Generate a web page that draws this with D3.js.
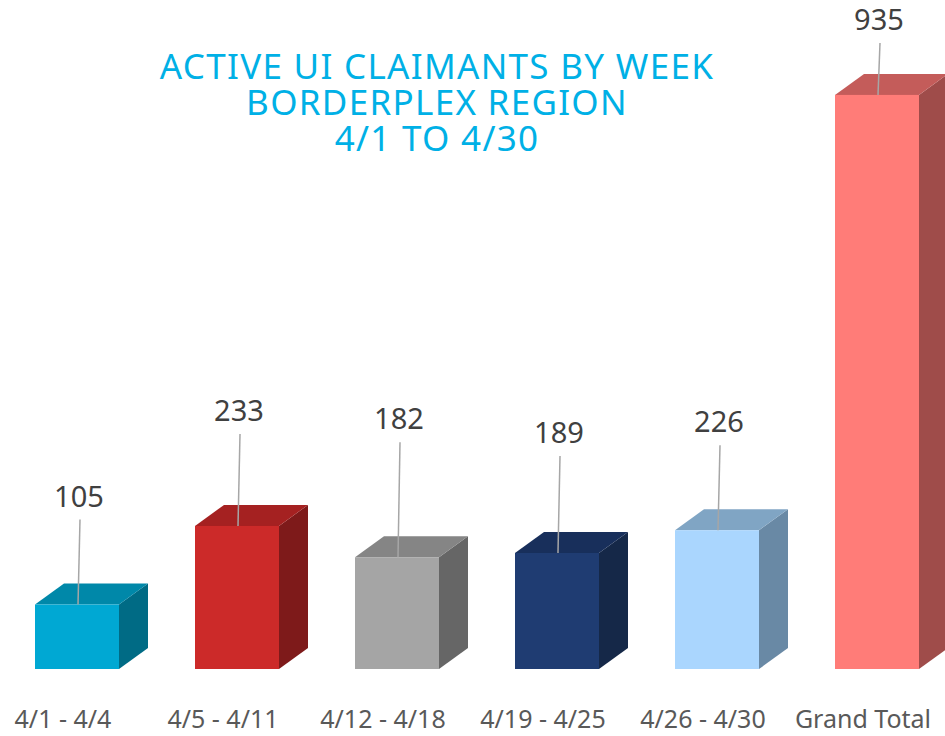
<!DOCTYPE html>
<html>
<head>
<meta charset="utf-8">
<script src="https://cdn.jsdelivr.net/npm/d3@7"></script>
<style>
  html, body { margin: 0; padding: 0; background: #ffffff; }
  svg { display: block; font-family: "Noto Sans", "Open Sans", sans-serif; }
</style>
</head>
<body>
<div id="chart"></div>
<script>
// Data
const categories = ['4/1 - 4/4', '4/5 - 4/11', '4/12 - 4/18', '4/19 - 4/25', '4/26 - 4/30', 'Grand Total'];
const claimants = [105, 233, 182, 189, 226, 935];
const titleLines = ['ACTIVE UI CLAIMANTS BY WEEK', 'BORDERPLEX REGION', '4/1 TO 4/30'];

// Face colours per bar: front, top, side
const frontColors = ['#00A8D3', '#CC2A29', '#A5A5A5', '#1F3C72', '#AAD6FE', '#FF7C78'];
const topColors = ['#0088A9', '#A52121', '#858585', '#182F5B', '#80A5C4', '#C45C5A'];
const sideColors = ['#006B85', '#7E1A1A', '#666666', '#152848', '#6989A5', '#9F4C4A'];

// distance (px) from label baseline down to the bar top, tuned to the picture
const labelGap = [98, 105, 128, 110, 98, 65];

const width = 945, height = 736;
const baseY = 669;
const frontW = 84, depthX = 29, depthY = 21;

const svg = d3.select('#chart').append('svg')
  .attr('width', width)
  .attr('height', height);

const x = d3.scaleBand().domain(categories).range([-17, 943]).padding(0);
const y = d3.scaleLinear().domain([0, 1000]).range([baseY, baseY - 614]);

// Title
const title = svg.append('text')
  .attr('text-anchor', 'middle')
  .attr('fill', '#00B0E6')
  .attr('font-size', '35px')
  .attr('letter-spacing', '1.3px');
titleLines.forEach((t, i) => {
  title.append('tspan')
    .attr('x', 437)
    .attr('y', 79 + i * 36)
    .text(t);
});

const bars = svg.append('g').selectAll('g')
  .data(categories.map((c, i) => ({ c, v: claimants[i], i })))
  .join('g');

bars.each(function (d) {
  const g = d3.select(this);
  const x0 = x(d.c) + 52;
  const x1 = x0 + frontW;
  const yt = y(d.v);

  // side face
  g.append('path')
    .attr('d', `M${x1},${yt}L${x1 + depthX},${yt - depthY}L${x1 + depthX},${baseY - depthY}L${x1},${baseY}Z`)
    .attr('fill', sideColors[d.i]);

  // top face
  g.append('path')
    .attr('d', `M${x0},${yt}L${x0 + depthX},${yt - depthY}L${x1 + depthX},${yt - depthY}L${x1},${yt}Z`)
    .attr('fill', topColors[d.i]);

  // front face
  g.append('rect')
    .attr('x', x0)
    .attr('y', yt)
    .attr('width', frontW)
    .attr('height', baseY - yt)
    .attr('fill', frontColors[d.i]);

  // leader line + value label
  const lx = x0 + 44;
  const ly = yt - labelGap[d.i];
  g.append('line')
    .attr('x1', lx + 1).attr('y1', ly + 13)
    .attr('x2', lx - 1).attr('y2', yt)
    .attr('stroke', '#A6A6A6')
    .attr('stroke-width', 1.5);

  g.append('text')
    .attr('x', lx)
    .attr('y', ly)
    .attr('text-anchor', 'middle')
    .attr('fill', '#404040')
    .attr('font-size', '29px')
    .text(d.v);
});

// Category axis labels
svg.append('g').selectAll('text')
  .data(categories)
  .join('text')
  .attr('x', d => x(d) + x.bandwidth() / 2)
  .attr('y', 728)
  .attr('text-anchor', 'middle')
  .attr('fill', '#595959')
  .attr('font-size', '25px')
  .text(d => d);
</script>
</body>
</html>
